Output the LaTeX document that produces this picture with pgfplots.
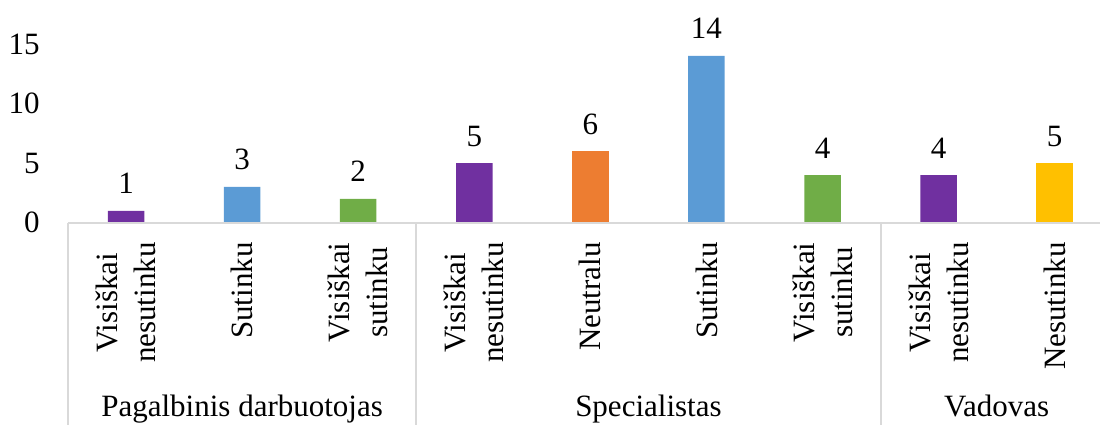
\documentclass[border=0pt]{standalone}
\usepackage{pgfplots}
\pgfplotsset{compat=1.18}
\usepackage{fontspec}
\setmainfont{Liberation Serif}
\definecolor{cpurple}{HTML}{7030A0}
\definecolor{cblue}{HTML}{5B9BD5}
\definecolor{cgreen}{HTML}{70AD47}
\definecolor{corange}{HTML}{ED7D31}
\definecolor{cyellow}{HTML}{FFC000}
\definecolor{sepgray}{HTML}{D9D9D9}
\newcommand\cf{\fontsize{15.5}{19}\selectfont}
\begin{document}
\begin{tikzpicture}[x=1pt,y=1pt]
\path[use as bounding box] (0,0) rectangle (550,212.5);
\begin{axis}[
  at={(34pt,101.15pt)}, anchor=south west,
  scale only axis, width=516pt, height=111.35pt,
  xmin=-0.5, xmax=8.39, ymin=0, ymax=18.7,
  axis line style={draw=none},
  tick style={draw=none}, major tick length=0pt,
  clip=false,
  ybar, bar width=18.25pt, bar shift=0pt,
  ytick={0,5,10,15},
  /pgf/number format/assume math mode=true,
  yticklabel style={font=\cf, anchor=east, inner sep=0pt, xshift=-14pt},
  xtick={0,...,8},
  xticklabels={{Visiškai\\nesutinku},{Sutinku},{Visiškai\\sutinku},{Visiškai\\nesutinku},{Neutralu},{Sutinku},{Visiškai\\sutinku},{Visiškai\\nesutinku},{Nesutinku}},
  xticklabel style={font=\cf, rotate=90, anchor=east, align=center, inner sep=0pt},
  xticklabel shift=9.65pt,
  nodes near coords,
  every node near coord/.append style={font=\cf, anchor=base, inner sep=0pt, yshift=8.5pt, text=black},
]
\addplot[fill=cpurple, draw=none] coordinates {(0,1) (3,5) (7,4)};
\addplot[fill=cblue, draw=none] coordinates {(1,3) (5,14)};
\addplot[fill=cgreen, draw=none] coordinates {(2,2) (6,4)};
\addplot[fill=corange, draw=none] coordinates {(4,6)};
\addplot[fill=cyellow, draw=none] coordinates {(8,5)};
\draw[sepgray, line width=0.9pt] (axis cs:-0.5,0) -- (axis cs:8.39,0);
\draw[sepgray, line width=0.9pt] (axis cs:-0.5,0) -- ([yshift=-101.15pt]axis cs:-0.5,0);
\draw[sepgray, line width=0.9pt] (axis cs:2.5,0) -- ([yshift=-101.15pt]axis cs:2.5,0);
\draw[sepgray, line width=0.9pt] (axis cs:6.5,0) -- ([yshift=-101.15pt]axis cs:6.5,0);
\node[font=\cf, anchor=base, inner sep=0pt] at ([yshift=-96.65pt]axis cs:1,0) {Pagalbinis darbuotojas};
\node[font=\cf, anchor=base, inner sep=0pt] at ([yshift=-96.65pt]axis cs:4.5,0) {Specialistas};
\node[font=\cf, anchor=base, inner sep=0pt] at ([yshift=-96.65pt]axis cs:7.5,0) {Vadovas};
\end{axis}
\end{tikzpicture}
\end{document}
